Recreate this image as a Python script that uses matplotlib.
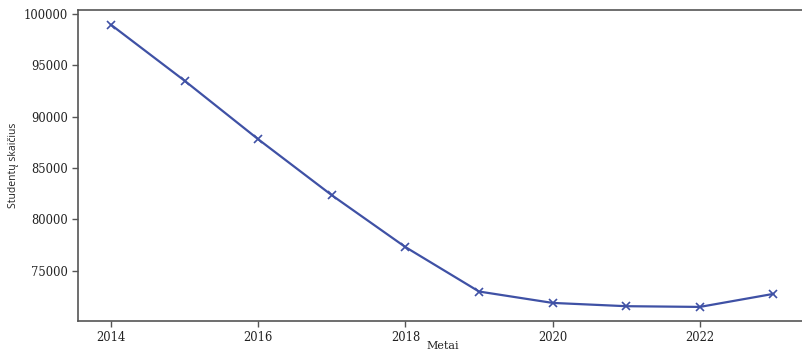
import matplotlib
matplotlib.use("Agg")
import matplotlib.pyplot as plt

years = [2014, 2015, 2016, 2017, 2018, 2019, 2020, 2021, 2022, 2023]
students = [98950, 93500, 87800, 82350, 77300, 72970, 71860, 71540, 71470, 72740]
xticks = [2014, 2016, 2018, 2020, 2022]
yticks = [75000, 80000, 85000, 90000, 95000, 100000]

line_color = "#3f51a5"
serif = ["DejaVu Serif"]

fig = plt.figure(figsize=(8.03, 3.53), dpi=100)
ax = fig.add_axes([0.097, 0.0907, 0.906, 0.881])

ax.plot(years, students, color=line_color, linewidth=1.6, marker="x",
        markersize=6, markeredgewidth=1.2)

ax.set_xlim(2013.55, 2023.435)
ax.set_ylim(70100, 100390)
ax.set_xticks(xticks)
ax.set_yticks(yticks)
ax.set_xticklabels([str(t) for t in xticks], family=serif, fontsize=8.3, color="#222222")
ax.set_yticklabels([str(t) for t in yticks], family=serif, fontsize=8.3, color="#222222")
ax.tick_params(length=4, width=1, color="#555555", pad=3)

for s in ax.spines.values():
    s.set_color("#555555")
    s.set_linewidth(1.2)

xl = ax.set_xlabel("Metai", family=serif, fontsize=8, color="#222222")
xl.set_verticalalignment("center")
ax.xaxis.set_label_coords(0.502, -0.08)
yl = ax.set_ylabel("Studentų skaičius", family=["Open Sans"], fontsize=7.5, color="#222222")
yl.set_verticalalignment("center")
ax.yaxis.set_label_coords(-0.089, 0.5)

fig.savefig("out.png", dpi=100)
